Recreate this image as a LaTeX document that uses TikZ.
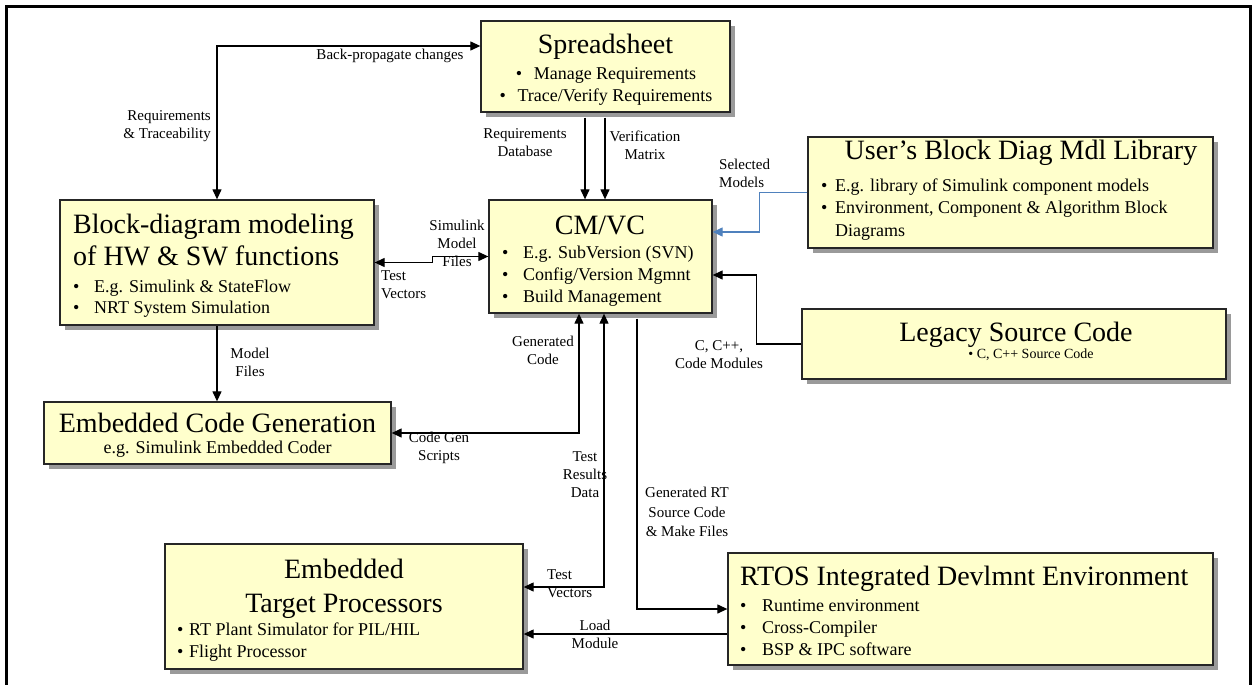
\documentclass[tikz,border=0pt]{standalone}
\usepackage{fontspec}
\setmainfont{Liberation Serif}
\usetikzlibrary{arrows.meta,shadows}
\definecolor{boxfill}{HTML}{FFFFCC}
\definecolor{boxline}{HTML}{262626}
\definecolor{shade}{HTML}{9A9A9A}
\definecolor{linkblue}{HTML}{4F81BD}
\tikzset{
  panel/.style={draw=boxline, line width=1.3pt, fill=boxfill, inner sep=0pt,
    general shadow={fill=shade, shadow xshift=5pt, shadow yshift=-5pt}},
  title/.style={inner sep=0pt, font=\fontsize{28}{32}\selectfont},
  item/.style={inner sep=0pt, font=\fontsize{18}{22}\selectfont},
  lbl/.style={inner sep=0pt, font=\fontsize{15}{18}\selectfont, align=center},
  link/.style={line width=1.2pt, draw=black},
}
\begin{document}
\begin{tikzpicture}[x=1pt, y=-1pt, >={Triangle[length=10pt,width=9pt]}]
\useasboundingbox (0,0) rectangle (1253,685);
% outer frame
\draw[line width=3pt] (6.5,690) -- (6.5,6.5) -- (1250,6.5) -- (1250,690);

% boxes
\node[panel, minimum width=249pt, minimum height=91pt]  (sheet)   at (605.5,66.5) {};
\node[panel, minimum width=223pt, minimum height=113pt] (cmvc)    at (600.5,256.5) {};
\node[panel, minimum width=314pt, minimum height=125pt] (model)   at (217,262.5) {};
\node[panel, minimum width=347pt, minimum height=62pt]  (codegen) at (217.5,433) {};
\node[panel, minimum width=358pt, minimum height=125pt] (target)  at (344,606.5) {};
\node[panel, minimum width=485pt, minimum height=112pt] (rtos)    at (970.5,609) {};
\node[panel, minimum width=405pt, minimum height=111pt] (lib)     at (1010.5,192.5) {};
\node[panel, minimum width=424pt, minimum height=70pt]  (legacy)  at (1014,344) {};

% connectors
\draw[link,<->] (model.north) |- ([yshift=20.5pt]sheet.west);
\draw[link,->] ([xshift=-20.5pt,yshift=-5pt]sheet.south) -- ([xshift=-20.5pt]sheet.south |- cmvc.north);
\draw[link,->] ([xshift=-0.5pt,yshift=-5pt]sheet.south) -- ([xshift=-0.5pt]sheet.south |- cmvc.north);
\draw[link,draw=linkblue,->] (lib.west) -- ++(-48,0) |- ([yshift=24.5pt]cmvc.east);
\draw[link,->] (legacy.west) -- ++(-45,0) |- ([yshift=-18.5pt]cmvc.east);
\draw[link,<->] (model.east) -- ++(58,0) -- ++(0,-6) -- (cmvc.west);
\draw[link,->] (model.south) -- (model.south |- codegen.north);
\draw[link,<->] ([xshift=-21.5pt]cmvc.south) |- (codegen.east);
\draw[link,<->] ([xshift=3.5pt]cmvc.south) |- ([yshift=19.5pt]target.east);
\draw[link,->] ([xshift=36.5pt,yshift=-5pt]cmvc.south) |- (rtos.west);
\draw[link,->] ([yshift=-25pt]rtos.west) -- ([yshift=-25pt]rtos.west -| target.east);

% Spreadsheet
\node[title, anchor=base] (sheet-t) at (605.5,54) {Spreadsheet};
\node[item, anchor=base] (sheet-a) at (606,79) {\makebox[18pt][l]{\textbullet}Manage Requirements};
\node[item, anchor=base] (sheet-b) at (606,101) {\makebox[18pt][l]{\textbullet}Trace/Verify Requirements};

% CM/VC
\node[title, anchor=base] (cm-t) at (600,234) {CM/VC};
\node[item, anchor=base west] (cm-a) at (502,258) {\makebox[21pt][l]{\textbullet}E.g. SubVersion (SVN)};
\node[item, anchor=base west] (cm-b) at (502,280) {\makebox[21pt][l]{\textbullet}Config/Version Mgmnt};
\node[item, anchor=base west] (cm-c) at (502,302) {\makebox[21pt][l]{\textbullet}Build Management};

% Block-diagram modeling
\node[title, anchor=base west] (mod-t1) at (73,233) {Block-diagram modeling};
\node[title, anchor=base west] (mod-t2) at (73,265) {of HW \& SW functions};
\node[item, anchor=base west] (mod-a) at (73,292) {\makebox[21pt][l]{\textbullet}E.g. Simulink \& StateFlow};
\node[item, anchor=base west] (mod-b) at (73,313) {\makebox[21pt][l]{\textbullet}NRT System Simulation};

% Embedded code generation
\node[title, anchor=base] (cg-t) at (217.5,432) {Embedded Code Generation};
\node[item, anchor=base] (cg-s) at (217.5,453) {e.g. Simulink Embedded Coder};

% Embedded target processors
\node[title, anchor=base] (tg-t1) at (344,578) {Embedded};
\node[title, anchor=base] (tg-t2) at (344,612) {Target Processors};
\node[item, anchor=base west] (tg-a) at (177,635) {\makebox[12pt][l]{\textbullet}RT Plant Simulator for PIL/HIL};
\node[item, anchor=base west] (tg-b) at (177,657) {\makebox[12pt][l]{\textbullet}Flight Processor};

% RTOS IDE
\node[title, anchor=base west] (rt-t) at (740,585) {RTOS Integrated Devlmnt Environment};
\node[item, anchor=base west] (rt-a) at (740,611) {\makebox[22pt][l]{\textbullet}Runtime environment};
\node[item, anchor=base west] (rt-b) at (740,633) {\makebox[22pt][l]{\textbullet}Cross-Compiler};
\node[item, anchor=base west] (rt-c) at (740,655) {\makebox[22pt][l]{\textbullet}BSP \& IPC software};

% Model library
\node[title, anchor=base] (lib-t) at (1021,159) {User’s Block Diag Mdl Library};
\node[item, anchor=base west] (lib-a) at (821,191) {\makebox[14pt][l]{\textbullet}E.g. library of Simulink component models};
\node[item, anchor=base west] (lib-b) at (821,213) {\makebox[14pt][l]{\textbullet}Environment, Component \& Algorithm Block};
\node[item, anchor=base west] (lib-c) at (835,236) {Diagrams};

% Legacy code
\node[title, anchor=base] (lg-t) at (1016,341) {Legacy Source Code};
\node[inner sep=0pt, font=\fontsize{14}{17}\selectfont, anchor=base] (lg-s) at (1031,358) {\textbullet{} C, C++ Source Code};

% connector labels
\node[lbl] (l-back) at (390,56) {Back-propagate changes};
\node[lbl, align=right, anchor=east] (l-req) at (211,126) {Requirements\\\& Traceability};
\node[lbl] (l-db) at (525,143) {Requirements\\Database};
\node[lbl] (l-vm) at (645,145) {Verification\\Matrix};
\node[lbl, align=left, anchor=west] (l-sel) at (719,173) {Selected\\Models};
\node[lbl] (l-smf) at (457,243) {Simulink\\Model\\Files};
\node[lbl, align=left, anchor=west] (l-tv1) at (381,285) {Test\\Vectors};
\node[lbl] (l-mf) at (250,362) {Model\\Files};
\node[lbl] (l-gc) at (543,350) {Generated\\Code};
\node[lbl] (l-cgs) at (439,448) {Code Gen\\Scripts};
\node[lbl] (l-cc) at (719,355) {C, C++,\\Code Modules};
\node[lbl] (l-trd) at (585,475) {Test\\Results\\Data};
\node[lbl, align=left, anchor=west] (l-tv2) at (547,584) {Test\\Vectors};
\node[lbl, font=\fontsize{15}{19.5}\selectfont] (l-rt) at (687,512) {Generated RT\\Source Code\\\& Make Files};
\node[lbl] (l-load) at (595,634) {Load\\Module};
\end{tikzpicture}
\end{document}
